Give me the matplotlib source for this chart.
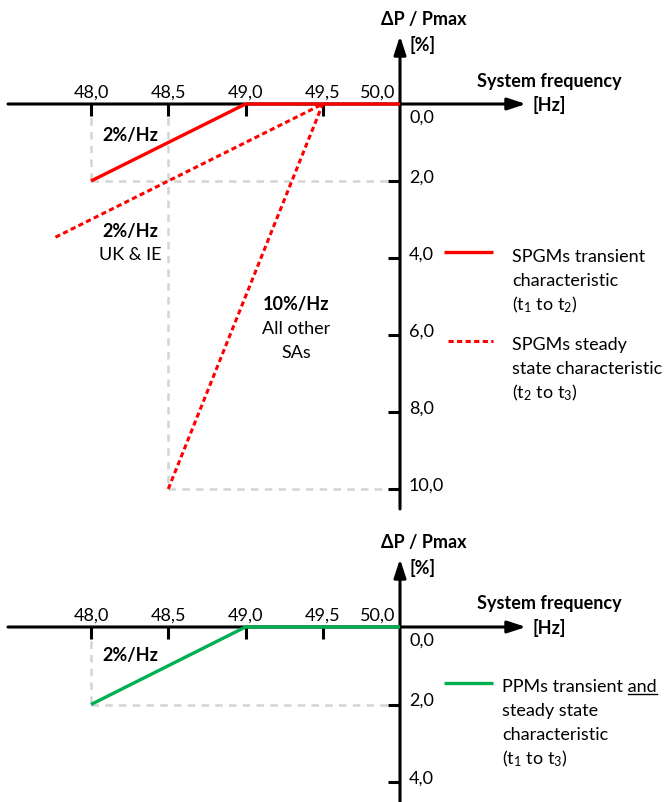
import matplotlib
matplotlib.use("Agg")
import matplotlib.pyplot as plt

plt.rcParams['font.family'] = ['Lato', 'DejaVu Sans']
plt.rcParams['mathtext.fontset'] = 'custom'
plt.rcParams['mathtext.rm'] = 'Lato'
plt.rcParams['mathtext.it'] = 'Lato:italic'
plt.rcParams['mathtext.bf'] = 'Lato:bold'

# data
freq_ticks = [48.0, 48.5, 49.0, 49.5]
freq_labels = ['48,0', '48,5', '49,0', '49,5']
top_p_ticks = [0, 2, 4, 6, 8, 10]
top_p_labels = ['0,0', '2,0', '4,0', '6,0', '8,0', '10,0']
bot_p_ticks = [0, 2, 4]
bot_p_labels = ['0,0', '2,0', '4,0']

transient_f = [48.0, 49.0, 50.0]
transient_p = [2.0, 0.0, 0.0]
steady_uk_f = [47.77, 49.5]
steady_uk_p = [3.46, 0.0]
steady_sa_f = [48.5, 49.5]
steady_sa_p = [10.0, 0.0]
ppm_f = [48.0, 49.0, 50.0]
ppm_p = [2.0, 0.0, 0.0]

W, H = 665, 803
PX_HZ = 154.5   # pixels per Hz
X48 = 91        # pixel of 48.0 Hz
FS = 13

RED = '#ff0000'
GREEN = '#00b050'
GREY = '#d4d4d4'
DASH = (1.7, 1.1)

fig = plt.figure(figsize=(W / 100, H / 100), dpi=100)


def fx(px):
    return 48.0 + (px - X48) / PX_HZ


def make_panel(top_px, bot_px, zero_px, ppp):
    ax = fig.add_axes([0, 1 - bot_px / H, 1, (bot_px - top_px) / H])
    ax.set_xlim(fx(0), fx(W))
    ax.set_ylim((bot_px - zero_px) / ppp, (top_px - zero_px) / ppp)
    ax.axis('off')
    fy = lambda py: (py - zero_px) / ppp
    return ax, fy


def draw_axes(ax, fy, zero_px, p_ticks, p_labels, y_bottom_px, ppp):
    arrow = dict(arrowstyle='-|>,head_length=0.55,head_width=0.18', color='black',
                 lw=2.2, mutation_scale=20, shrinkA=0, shrinkB=0)
    ax.annotate('', xy=(fx(526), 0), xytext=(fx(8), 0), arrowprops=arrow, zorder=2)
    ax.annotate('', xy=(50.0, fy(zero_px - 68)), xytext=(50.0, fy(y_bottom_px)),
                arrowprops=arrow, zorder=2)
    for f, lab in zip(freq_ticks, freq_labels):
        ax.plot([f, f], [0, 12 / ppp], color='black', lw=2.2, solid_capstyle='butt', zorder=2)
        ax.text(f, -12 / ppp, lab, ha='center', va='center', fontsize=FS)
    ax.text(fx(395), -12 / ppp, '50,0', ha='right', va='center', fontsize=FS)
    for p, lab in zip(p_ticks, p_labels):
        if p > 0:
            ax.plot([fx(388), 50.0], [p, p], color='black', lw=2.2, solid_capstyle='butt', zorder=2)
            ax.text(fx(409), p - 4.5 / ppp, lab, ha='left', va='center', fontsize=FS)
        else:
            ax.text(fx(409), 13 / ppp, lab, ha='left', va='center', fontsize=FS)
    ax.text(fx(424), -85 / ppp, 'ΔP / Pmax', ha='center', va='center', fontsize=FS, fontweight='bold')
    ax.text(fx(410), -60 / ppp, '[%]', ha='left', va='center', fontsize=FS, fontweight='bold')
    ax.text(fx(549), -24 / ppp, 'System frequency', ha='center', va='center', fontsize=FS, fontweight='bold')
    ax.text(fx(533), 0, '[Hz]', ha='left', va='center', fontsize=FS, fontweight='bold')


def lines(ax, fy, x_px, y_px_list, texts, ha='left', **kw):
    # y_px_list holds the visual centre of each line; place on a common baseline
    out = []
    for y, t in zip(y_px_list, texts):
        out.append(ax.text(fx(x_px), fy(y + 6), t, ha=ha, va='baseline', fontsize=FS, **kw))
    return out


guide = dict(color=GREY, lw=1.8, dashes=(3, 2.5), zorder=1)

# ---------- top panel ----------
ppp1 = 38.5
ax1, fy1 = make_panel(0, 520, 105, ppp1)
draw_axes(ax1, fy1, 105, top_p_ticks, top_p_labels, 510, ppp1)

ax1.plot([transient_f[0]] * 2, [0, transient_p[0]], **guide)
ax1.plot([transient_f[0], 50.0], [transient_p[0]] * 2, **guide)
ax1.plot([steady_sa_f[0]] * 2, [0, steady_sa_p[0]], **guide)
ax1.plot([steady_sa_f[0], 50.0], [steady_sa_p[0]] * 2, **guide)

ax1.plot(steady_uk_f, steady_uk_p, color=RED, lw=2.2, dashes=DASH, zorder=3)
ax1.plot(steady_sa_f, steady_sa_p, color=RED, lw=2.2, dashes=DASH, zorder=3)
ax1.plot(transient_f, transient_p, color=RED, lw=2.4, solid_capstyle='butt', zorder=4)

lines(ax1, fy1, 130, [135, 231], ['2%/Hz', '2%/Hz'], ha='center', fontweight='bold')
lines(ax1, fy1, 130, [254], ['UK & IE'], ha='center')
lines(ax1, fy1, 296, [304], ['10%/Hz'], ha='center', fontweight='bold')
lines(ax1, fy1, 296, [328, 352], ['All other', 'SAs'], ha='center')

# legend keys
ax1.plot([fx(444), fx(493)], [fy1(253)] * 2, color=RED, lw=2.4, solid_capstyle='butt')
ax1.plot([fx(448), fx(493)], [fy1(342)] * 2, color=RED, lw=2.2, dashes=DASH)
lines(ax1, fy1, 512, [256, 280, 304],
      ['SPGMs transient', 'characteristic', '(t$_1$ to t$_2$)'])
lines(ax1, fy1, 512, [344, 368, 392],
      ['SPGMs steady', 'state characteristic', '(t$_2$ to t$_3$)'])

# ---------- bottom panel ----------
ppp2 = 38.75
ax2, fy2 = make_panel(520, H, 628, ppp2)
draw_axes(ax2, fy2, 628, bot_p_ticks, bot_p_labels, H + 5, ppp2)

ax2.plot([ppm_f[0]] * 2, [0, ppm_p[0]], **guide)
ax2.plot([ppm_f[0], 50.0], [ppm_p[0]] * 2, **guide)
ax2.plot(ppm_f, ppm_p, color=GREEN, lw=2.4, solid_capstyle='butt', zorder=4)
lines(ax2, fy2, 130, [655], ['2%/Hz'], ha='center', fontweight='bold')

ax2.plot([fx(444), fx(493)], [fy2(684)] * 2, color=GREEN, lw=2.4, solid_capstyle='butt')
t_first = lines(ax2, fy2, 502, [686, 710, 734, 758],
                ['PPMs transient and', 'steady state', 'characteristic', '(t$_1$ to t$_3$)'])[0]

# underline "and" (text sits on its baseline, so the underline goes just below it)
fig.canvas.draw()
r = fig.canvas.get_renderer()
bb = t_first.get_window_extent(r)
tmp = ax2.text(0, 0, 'and', fontsize=FS)
tb = tmp.get_window_extent(r)
tmp.remove()
base_y = ax2.transData.transform((0, fy2(686 + 6)))[1]
inv = fig.transFigure.inverted()
yl = base_y - 3
(x0, y0), (x1, _) = inv.transform([(bb.x1 - tb.width, yl), (bb.x1, yl)])
fig.add_artist(plt.Line2D([x0, x1], [y0, y0], transform=fig.transFigure, color='black', lw=1))

fig.savefig('out.png', dpi=100)
